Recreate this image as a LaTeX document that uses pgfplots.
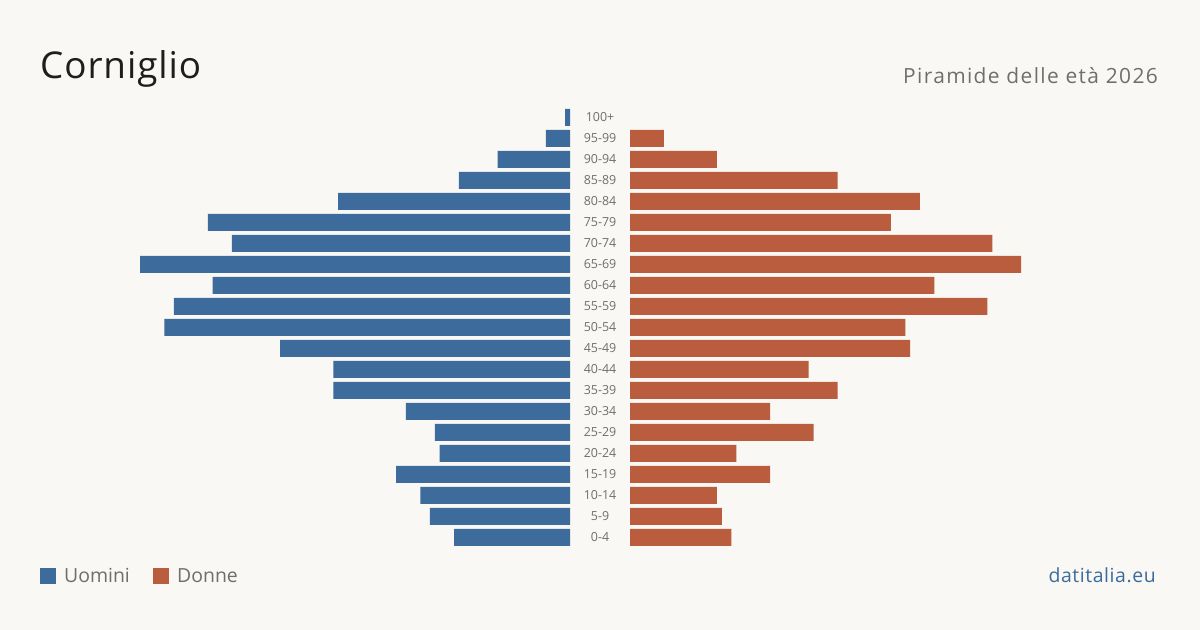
\documentclass[border=0pt]{standalone}
\usepackage{fontspec}
\setmainfont{Open Sans}
\usepackage{pgfplots}
\usepackage{pgfplotstable}
\pgfplotsset{compat=1.18}

\definecolor{bg}{HTML}{F9F8F4}
\definecolor{uomini}{HTML}{3C6B9C}
\definecolor{donne}{HTML}{B95D3E}
\definecolor{lab}{HTML}{6E6E6E}
\definecolor{ink}{HTML}{1E1E1E}

% Residents by five-year age class (idx 0 = 0-4 ... 20 = 100+)
\pgfplotstableread{
idx m  f
0   24 21
1   29 19
2   31 18
3   36 29
4   27 22
5   28 38
6   34 29
7   49 43
8   49 37
9   60 58
10  84 57
11  82 74
12  74 63
13  89 81
14  70 75
15  75 54
16  48 60
17  23 43
18  15 18
19  5  7
20  1  0
}\pyramid

\begin{document}
\begin{tikzpicture}[x=1bp,y=1bp]
\fill[bg] (0,0) rectangle (1200,630);

% Men, growing leftwards from the central label column
\begin{axis}[
  at={(570bp,82bp)}, anchor=south east,
  scale only axis, width=483bp, height=441bp,
  xmin=0, xmax=100, ymin=-0.5, ymax=20.5,
  x dir=reverse,
  hide axis,
  xbar, bar width=17bp,
  x filter/.expression={x==0 ? nan : x},
]
\addplot[fill=uomini, draw=none] table[x=m, y=idx] {\pyramid};
\end{axis}

% Women, growing rightwards; age labels centred between the halves
\begin{axis}[
  at={(630bp,82bp)}, anchor=south west,
  scale only axis, width=483bp, height=441bp,
  xmin=0, xmax=100, ymin=-0.5, ymax=20.5,
  axis line style={draw=none},
  xtick=\empty,
  ytick={0,...,20},
  yticklabels={0-4,5-9,10-14,15-19,20-24,25-29,30-34,35-39,40-44,45-49,50-54,55-59,60-64,65-69,70-74,75-79,80-84,85-89,90-94,95-99,100+},
  major tick length=0pt,
  yticklabel style={anchor=center, xshift=-30bp, yshift=0.5bp, text=lab,
    font=\fontsize{12.5}{14}\selectfont},
  xbar, bar width=17bp,
  x filter/.expression={x==0 ? nan : x},
]
\addplot[fill=donne, draw=none] table[x=f, y=idx] {\pyramid};
\end{axis}

% Titles
\node[anchor=base west, inner sep=0, text=ink,
  font=\fontsize{37}{44}\selectfont\addfontfeature{LetterSpace=2.5}]
  at (40,551) {Corniglio};
\node[anchor=base east, inner sep=0, text=lab,
  font=\fontsize{21}{25}\selectfont\addfontfeature{LetterSpace=6.5}]
  at (1158,546) {Piramide delle età 2026};

% Legend
\fill[uomini] (40,46) rectangle (56,62);
\node[anchor=base west, inner sep=0, text=lab, font=\fontsize{19.5}{23}\selectfont]
  at (64,47) {Uomini};
\fill[donne] (153,46) rectangle (169,62);
\node[anchor=base west, inner sep=0, text=lab, font=\fontsize{19.5}{23}\selectfont]
  at (177,47) {Donne};

% Source
\node[anchor=base east, inner sep=0, text=uomini,
  font=\fontsize{19.5}{23}\selectfont\addfontfeature{LetterSpace=3}]
  at (1156,47) {datitalia.eu};
\end{tikzpicture}
\end{document}
